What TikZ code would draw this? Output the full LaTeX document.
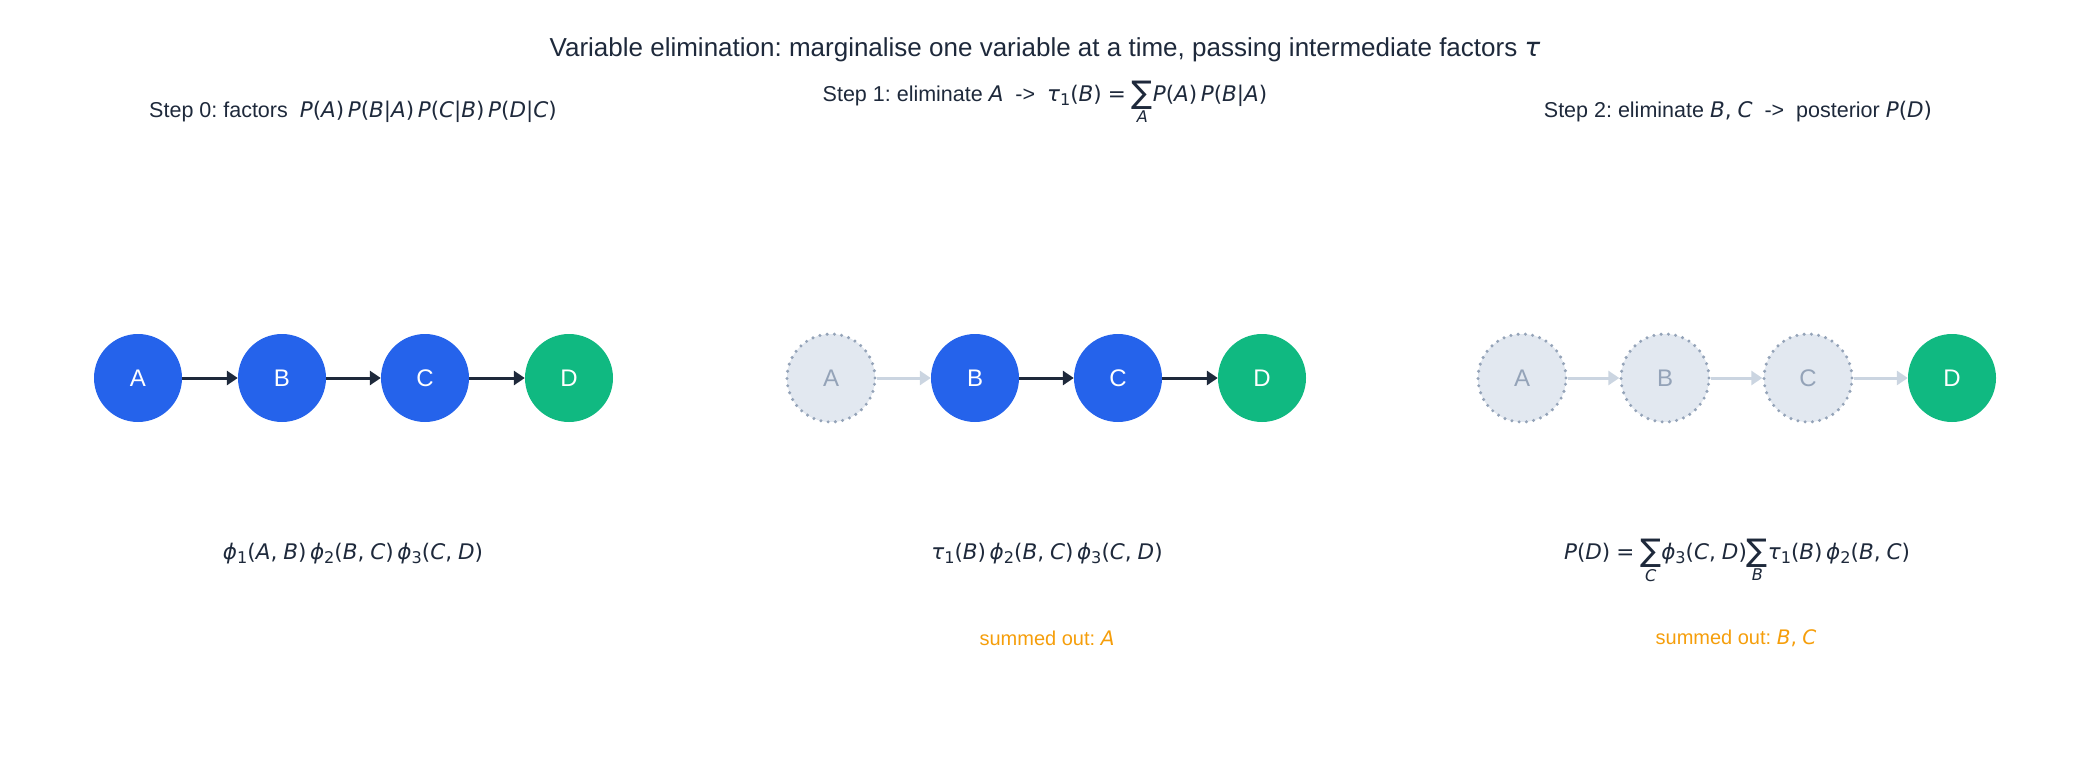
\documentclass[tikz,border=0pt]{standalone}
\usepackage{fontspec}
\usepackage{graphicx}
\setmainfont{Liberation Sans}
\newfontfamily\dvf{DejaVu Sans}
\usetikzlibrary{arrows.meta}
\frenchspacing
\definecolor{cblue}{HTML}{2563EB}
\definecolor{cgreen}{HTML}{10B981}
\definecolor{cdark}{HTML}{1E293B}
\definecolor{cfadefill}{HTML}{E2E8F0}
\definecolor{cfadeline}{HTML}{94A3B8}
\definecolor{cfadearrow}{HTML}{CBD5E1}
\definecolor{corange}{HTML}{F59E0B}
\newcommand\mI[1]{{\dvf\itshape #1}}
\newcommand\mR[1]{{\dvf #1}}
\newcommand\mS[1]{\raisebox{-0.2em}{\scalebox{0.75}{\dvf #1}}}
\newcommand\mSum[1]{\mbox{$\mathop{\hbox{\dvf\raisebox{-0.12em}{\scalebox{1.45}{∑}}}}\limits_{\hbox{\raisebox{0.1em}{\scalebox{0.75}{\dvf\itshape #1}}}}$}}
\begin{document}
\begin{tikzpicture}[x=1pt,y=-1pt,
  var/.style={circle,minimum size=88pt,inner sep=0pt,font=\fontsize{24}{26}\selectfont},
  live/.style={var,fill=cblue,text=white},
  query/.style={var,fill=cgreen,text=white},
  gone/.style={var,fill=cfadefill,text=cfadeline,draw=cfadeline,line width=3.4pt,dash pattern=on 0pt off 7.3pt,line cap=round},
  edge/.style={draw=cdark,line width=3pt,-{Triangle[length=11pt,width=14pt]}},
  fedge/.style={draw=cfadearrow,line width=3pt,-{Triangle[length=11pt,width=14pt]}},
  lbl/.style={text=cdark,font=\fontsize{21.5}{24}\selectfont,inner sep=0pt},
  frm/.style={text=cdark,font=\fontsize{21.5}{24}\selectfont,inner sep=0pt},
  note/.style={text=corange,font=\fontsize{20}{24}\selectfont,inner sep=0pt}]
\useasboundingbox (0,0) rectangle (2090,760);
\node[text=cdark,font=\fontsize{26}{30}\selectfont,inner sep=0pt] (title) at (1045,50) {Variable elimination: marginalise one variable at a time, passing intermediate factors \mI{τ}};
% step labels
\node[lbl] (s0) at (353,112) {Step 0: factors\ \ \mI{P}\mR{(}\mI{A}\mR{)}\,\mI{P}\mR{(}\mI{B}\mR{|}\mI{A}\mR{)}\,\mI{P}\mR{(}\mI{C}\mR{|}\mI{B}\mR{)}\,\mI{P}\mR{(}\mI{D}\mR{|}\mI{C}\mR{)}};
\node[lbl,anchor=base] (s1) at (1045,101) {Step 1: eliminate \mI{A}\ \ ->\ \ \mI{τ}\mS{1}\mR{(}\mI{B}\mR{)} \mR{=} \mSum{A}\mI{P}\mR{(}\mI{A}\mR{)}\,\mI{P}\mR{(}\mI{B}\mR{|}\mI{A}\mR{)}};
\node[lbl] (s2) at (1738,112) {Step 2: eliminate \mI{B}\mR{,} \mI{C}\ \ ->\ \ posterior \mI{P}\mR{(}\mI{D}\mR{)}};
% panel 0
\node[live] (a0) at (138,378) {A};
\node[live] (b0) at (282,378) {B};
\node[live] (c0) at (425,378) {C};
\node[query] (d0) at (569,378) {D};
\draw[edge] (a0) -- (b0);
\draw[edge] (b0) -- (c0);
\draw[edge] (c0) -- (d0);
% panel 1
\node[gone] (a1) at (831,378) {A};
\node[live] (b1) at (975,378) {B};
\node[live] (c1) at (1118,378) {C};
\node[query] (d1) at (1262,378) {D};
\draw[fedge] (a1) -- (b1);
\draw[edge] (b1) -- (c1);
\draw[edge] (c1) -- (d1);
% panel 2
\node[gone] (a2) at (1522,378) {A};
\node[gone] (b2) at (1665,378) {B};
\node[gone] (c2) at (1808,378) {C};
\node[query] (d2) at (1952,378) {D};
\draw[fedge] (a2) -- (b2);
\draw[fedge] (b2) -- (c2);
\draw[fedge] (c2) -- (d2);
% formulas
\node[frm,anchor=base] (f0) at (353,559) {\mI{ϕ}\mS{1}\mR{(}\mI{A}\mR{,} \mI{B}\mR{)}\,\mI{ϕ}\mS{2}\mR{(}\mI{B}\mR{,} \mI{C}\mR{)}\,\mI{ϕ}\mS{3}\mR{(}\mI{C}\mR{,} \mI{D}\mR{)}};
\node[frm,anchor=base] (f1) at (1047,559) {\mI{τ}\mS{1}\mR{(}\mI{B}\mR{)}\,\mI{ϕ}\mS{2}\mR{(}\mI{B}\mR{,} \mI{C}\mR{)}\,\mI{ϕ}\mS{3}\mR{(}\mI{C}\mR{,} \mI{D}\mR{)}};
\node[frm,anchor=base] (f2) at (1737,559) {\mI{P}\mR{(}\mI{D}\mR{)} \mR{=} \mSum{C}\mI{ϕ}\mS{3}\mR{(}\mI{C}\mR{,} \mI{D}\mR{)}\mSum{B}\mI{τ}\mS{1}\mR{(}\mI{B}\mR{)}\,\mI{ϕ}\mS{2}\mR{(}\mI{B}\mR{,} \mI{C}\mR{)}};
\node[note] (n1) at (1047,638) {summed out: \mI{A}};
\node[note] (n2) at (1736,638) {summed out: \mI{B}\mR{,} \mI{C}};
\end{tikzpicture}
\end{document}
